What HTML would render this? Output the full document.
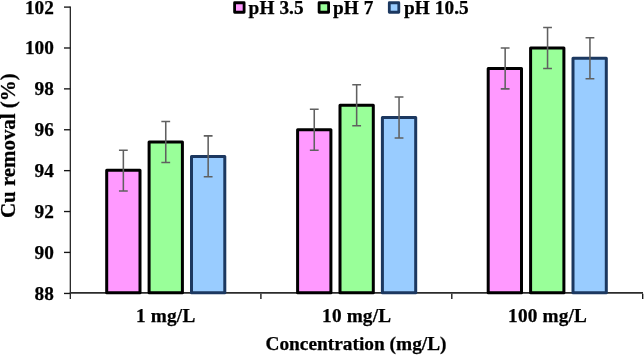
<!DOCTYPE html>
<html><head><meta charset="utf-8"><title>Cu removal chart</title>
<style>html,body{margin:0;padding:0;background:#fff}body{width:644px;height:355px;overflow:hidden}</style></head>
<body>
<svg width="644" height="355" viewBox="0 0 644 355" style="display:block">
<rect width="644" height="355" fill="#fff"/>
<g stroke="#151515" stroke-width="1.35" fill="none">
<path d="M70.3 6.6V299.0" stroke-width="1.2"/>
<path d="M64.0 293.45H70.3"/>
<path d="M69.8 292.95H643.0" stroke="#2b2b2b" stroke-width="1.7"/>
<path d="M64.0 252.41H70.3"/>
<path d="M64.0 211.53H70.3"/>
<path d="M64.0 170.64H70.3"/>
<path d="M64.0 129.76H70.3"/>
<path d="M64.0 88.87H70.3"/>
<path d="M64.0 47.99H70.3"/>
<path d="M64.0 7.10H70.3"/>
<path d="M260.90 293.8V299.0"/>
<path d="M451.80 293.8V299.0"/>
<path d="M642.70 293.8V299.0"/>
</g>
<rect x="106.70" y="170.34" width="33.30" height="122.31" fill="#FF99FF" stroke="#000000" stroke-width="3.0" stroke-linejoin="round"/>
<rect x="149.10" y="142.12" width="33.30" height="150.53" fill="#99FF99" stroke="#000000" stroke-width="3.0" stroke-linejoin="round"/>
<rect x="191.50" y="156.43" width="33.30" height="136.22" fill="#99CCFF" stroke="#1C3860" stroke-width="3.0" stroke-linejoin="round"/>
<rect x="297.60" y="129.86" width="33.30" height="162.79" fill="#FF99FF" stroke="#000000" stroke-width="3.0" stroke-linejoin="round"/>
<rect x="340.00" y="105.33" width="33.30" height="187.32" fill="#99FF99" stroke="#000000" stroke-width="3.0" stroke-linejoin="round"/>
<rect x="382.40" y="117.59" width="33.30" height="175.06" fill="#99CCFF" stroke="#1C3860" stroke-width="3.0" stroke-linejoin="round"/>
<rect x="488.20" y="68.53" width="33.30" height="224.12" fill="#FF99FF" stroke="#000000" stroke-width="3.0" stroke-linejoin="round"/>
<rect x="530.60" y="48.09" width="33.30" height="244.56" fill="#99FF99" stroke="#000000" stroke-width="3.0" stroke-linejoin="round"/>
<rect x="573.00" y="58.31" width="33.30" height="234.34" fill="#99CCFF" stroke="#1C3860" stroke-width="3.0" stroke-linejoin="round"/>
<g stroke="#606060" stroke-width="1.55" fill="none">
<path d="M123.35 150.20V191.09M118.95 150.20h8.8M118.95 191.09h8.8"/>
<path d="M165.75 121.58V162.47M161.35 121.58h8.8M161.35 162.47h8.8"/>
<path d="M208.15 135.89V176.78M203.75 135.89h8.8M203.75 176.78h8.8"/>
<path d="M314.25 109.31V150.20M309.85 109.31h8.8M309.85 150.20h8.8"/>
<path d="M356.65 84.78V125.67M352.25 84.78h8.8M352.25 125.67h8.8"/>
<path d="M399.05 97.05V137.93M394.65 97.05h8.8M394.65 137.93h8.8"/>
<path d="M505.15 47.99V88.87M500.75 47.99h8.8M500.75 88.87h8.8"/>
<path d="M547.55 27.54V68.43M543.15 27.54h8.8M543.15 68.43h8.8"/>
<path d="M589.95 37.76V78.65M585.55 37.76h8.8M585.55 78.65h8.8"/>
</g>
<g font-family="'Liberation Serif', serif" font-weight="bold" fill="#000" stroke="#000" stroke-width="0.25">
<text x="53.8" y="299.80" font-size="19.25" text-anchor="end">88</text>
<text x="53.8" y="258.91" font-size="19.25" text-anchor="end">90</text>
<text x="53.8" y="218.03" font-size="19.25" text-anchor="end">92</text>
<text x="53.8" y="177.14" font-size="19.25" text-anchor="end">94</text>
<text x="53.8" y="136.26" font-size="19.25" text-anchor="end">96</text>
<text x="53.8" y="95.37" font-size="19.25" text-anchor="end">98</text>
<text x="53.8" y="54.49" font-size="19.25" text-anchor="end">100</text>
<text x="53.8" y="13.60" font-size="19.25" text-anchor="end">102</text>
<text x="165.75" y="321.9" font-size="19.25" letter-spacing="0.17" text-anchor="middle">1 mg/L</text>
<text x="356.65" y="321.9" font-size="19.25" letter-spacing="0.17" text-anchor="middle">10 mg/L</text>
<text x="547.55" y="321.9" font-size="19.25" letter-spacing="0.17" text-anchor="middle">100 mg/L</text>
<text x="356" y="349.8" font-size="19.35" text-anchor="middle">Concentration (mg/L)</text>
<text transform="translate(15 145.7) rotate(-90)" font-size="20.9" text-anchor="middle">Cu removal (%)</text>
<rect x="234.60" y="2.75" width="9.5" height="9.5" fill="#FF99FF" stroke="#000000" stroke-width="2.8" stroke-linejoin="round"/>
<text x="248.6" y="13.7" font-size="19.25" letter-spacing="0.1">pH 3.5</text>
<rect x="319.10" y="2.75" width="9.5" height="9.5" fill="#99FF99" stroke="#000000" stroke-width="2.8" stroke-linejoin="round"/>
<text x="333" y="13.7" font-size="19.25" letter-spacing="0.1">pH 7</text>
<rect x="389.30" y="2.75" width="9.5" height="9.5" fill="#99CCFF" stroke="#1C3860" stroke-width="2.8" stroke-linejoin="round"/>
<text x="403.9" y="13.7" font-size="19.25" letter-spacing="0.1">pH 10.5</text>
</g>
</svg>
</body></html>
